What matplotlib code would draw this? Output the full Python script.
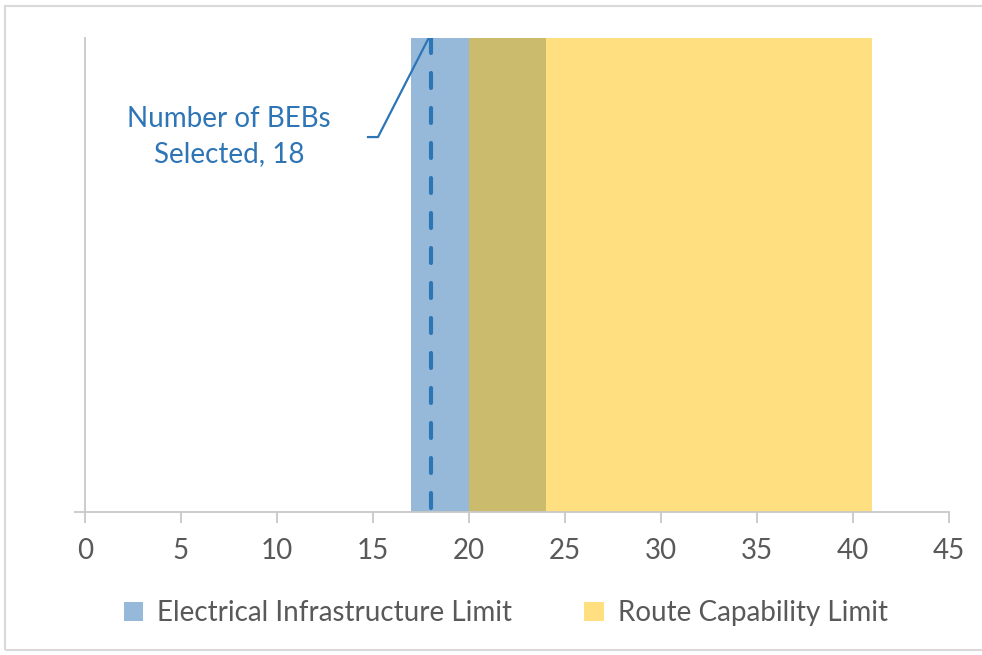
"""Number of BEBs selected vs infrastructure / route limits"""

import matplotlib.pyplot as plt
from matplotlib.patches import Patch, Rectangle

# data
electrical_limit = (17, 24)   # band start, end
route_limit = (20, 41)
selected = 18
x_ticks = [0, 5, 10, 15, 20, 25, 30, 35, 40, 45]
label_lines = ["Number of BEBs", "Selected, 18"]
legend_labels = ["Electrical Infrastructure Limit", "Route Capability Limit"]

BLUE = "#2E75B6"
GOLD = "#FFC000"
GREY = "#595959"
AXIS = "#C8C8C8"


def main():
    plt.rcParams["font.family"] = ["Lato", "DejaVu Sans"]
    fig = plt.figure(figsize=(9.82, 6.55), dpi=100)
    ax = fig.add_axes([85 / 982, 1 - 512 / 655, (949 - 85) / 982, (512 - 38) / 655])

    # section: bands
    ax.axvspan(*electrical_limit, color=BLUE, alpha=0.5, lw=0)
    ax.axvspan(*route_limit, color=GOLD, alpha=0.5, lw=0)

    # section: selected line
    ax.plot([selected, selected], [1, 0], color=BLUE, lw=3, ls=(0, (3.6, 4.8)),
            dash_capstyle="round", zorder=3)
    ax.plot([14.74, 15.26, selected - 0.1], [0.791, 0.791, 1.0], color=BLUE, lw=1.6,
            zorder=3)
    ax.text(7.5, 0.83, label_lines[0], color=BLUE, fontsize=20, ha="center", va="center")
    ax.text(7.5, 0.755, label_lines[1], color=BLUE, fontsize=20, ha="center", va="center")

    # section: axes
    ax.set_xlim(0, 45)
    ax.set_ylim(0, 1)
    ax.set_xticks(x_ticks)
    ax.set_yticks([0])
    ax.set_yticklabels([""])
    ax.tick_params(axis="x", colors=AXIS, labelcolor=GREY, labelsize=20, length=8,
                   width=1.3, pad=11)
    ax.tick_params(axis="y", colors=AXIS, length=8, width=1.3)
    for side in ("top", "right"):
        ax.spines[side].set_visible(False)
    for side in ("left", "bottom"):
        ax.spines[side].set_color(AXIS)
        ax.spines[side].set_linewidth(1.3)

    # section: legend
    handles = [Patch(facecolor=BLUE, alpha=0.5, lw=0), Patch(facecolor=GOLD, alpha=0.5, lw=0)]
    fig.legend(handles, legend_labels, loc="center", bbox_to_anchor=(0.515, 1 - 613 / 655),
               ncol=2, frameon=False, fontsize=20, labelcolor=GREY, handlelength=0.7,
               handleheight=0.7, handletextpad=0.5, columnspacing=2.6)

    # chart frame
    fig.patches.append(Rectangle((5 / 982, 1 - 650 / 655), 1.1, 644 / 655,
                                 transform=fig.transFigure, fill=False,
                                 edgecolor="#D9D9D9", lw=1.5))

    fig.savefig("out.png", dpi=100)
    plt.close(fig)


if __name__ == "__main__":
    main()
